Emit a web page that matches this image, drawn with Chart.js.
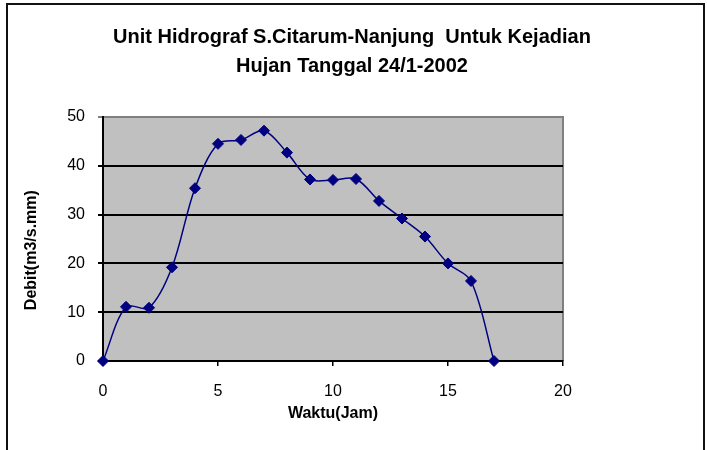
<!DOCTYPE html>
<html>
<head>
<meta charset="utf-8">
<script src="https://cdn.jsdelivr.net/npm/chart.js@4"></script>
<style>
  html, body { margin: 0; padding: 0; background: #fff; }
  #wrap { width: 707px; height: 450px; }
</style>
</head>
<body>
<div id="wrap"><canvas id="hidroChart" width="707" height="450"></canvas></div>
<script>
        // Unit hidrograf data (jam vs debit)
        const hours = [0, 1, 2, 3, 4, 5, 6, 7, 8, 9, 10, 11, 12, 13, 14, 15, 16, 17];
        const debit = [0, 11.1, 10.9, 19.2, 35.4, 44.5, 45.3, 47.2, 42.7, 37.2, 37.1, 37.3, 32.8, 29.2, 25.5, 20.0, 16.4, 0];
        const titleLines = ['Unit Hidrograf S.Citarum-Nanjung  Untuk Kejadian', 'Hujan Tanggal 24/1-2002'];
        const xTitle = 'Waktu(Jam)';
        const yTitle = 'Debit(m3/s.mm)';

        const fontFam = '"Liberation Sans", Arial, sans-serif';

        // frame, plot background and the two-line title
        const decorPlugin = {
            id: 'decor',
            beforeDraw(chart) {
                const ctx = chart.ctx;
                const a = chart.chartArea;
                ctx.save();
                ctx.fillStyle = '#ffffff';
                ctx.fillRect(0, 0, chart.width, chart.height);
                ctx.strokeStyle = '#111111';
                ctx.lineWidth = 2;
                ctx.strokeRect(7, 4, 697, 500);
                ctx.fillStyle = '#C0C0C0';
                ctx.fillRect(a.left, a.top, a.right - a.left, a.bottom - a.top);
                ctx.strokeStyle = '#808080';
                ctx.lineWidth = 2;
                ctx.beginPath();
                ctx.moveTo(a.left, a.top);
                ctx.lineTo(a.right, a.top);
                ctx.lineTo(a.right, a.bottom);
                ctx.stroke();
                ctx.restore();
            },
            afterDraw(chart) {
                const ctx = chart.ctx;
                ctx.save();
                ctx.fillStyle = '#000000';
                ctx.font = 'bold 20px ' + fontFam;
                ctx.textAlign = 'center';
                ctx.textBaseline = 'alphabetic';
                ctx.fillText(titleLines[0], 352, 43);
                ctx.fillText(titleLines[1], 352, 72);
                ctx.restore();
            }
        };

        const hidroChart = new Chart(document.getElementById('hidroChart'), {
            type: 'line',
            data: {
                datasets: [{
                    data: hours.map((h, i) => ({ x: h, y: debit[i] })),
                    borderColor: '#000080',
                    backgroundColor: '#000080',
                    borderWidth: 1.5,
                    tension: 0.33,
                    pointStyle: 'rectRot',
                    pointRadius: 5.5,
                    pointBorderWidth: 1,
                    fill: false,
                    clip: false
                }]
            },
            options: {
                responsive: false,
                animation: false,
                layout: { padding: { top: 117, left: 0, right: 144, bottom: 0 } },
                plugins: {
                    legend: { display: false },
                    tooltip: { enabled: false },
                    title: { display: false }
                },
                scales: {
                    x: {
                        type: 'linear',
                        min: 0,
                        max: 20,
                        afterFit(scale) { scale.height = 89; },
                        ticks: {
                            stepSize: 5,
                            color: '#000',
                            padding: 16,
                            maxRotation: 0,
                            font: { family: fontFam, size: 16 }
                        },
                        grid: {
                            drawOnChartArea: false,
                            drawTicks: true,
                            tickLength: 5,
                            color: '#000',
                            lineWidth: 1.5
                        },
                        border: { color: '#000', width: 2 },
                        title: {
                            display: true,
                            text: xTitle,
                            color: '#000',
                            padding: { top: 0, bottom: 27 },
                            font: { family: fontFam, size: 16, weight: 'bold' }
                        }
                    },
                    y: {
                        min: 0,
                        max: 50,
                        afterFit(scale) { scale.width = 103; },
                        ticks: {
                            stepSize: 10,
                            color: '#000',
                            padding: 13,
                            font: { family: fontFam, size: 16 }
                        },
                        grid: {
                            color: (c) => (c.tick && c.tick.value === 50 ? '#808080' : '#000'),
                            lineWidth: 2,
                            tickLength: 5
                        },
                        border: { color: '#000', width: 2 },
                        title: {
                            display: true,
                            // trailing spaces push the rotated label down a little, as in the original
                            text: yTitle + '\u00a0\u00a0\u00a0\u00a0\u00a0',
                            color: '#000',
                            padding: { top: 22, bottom: 0 },
                            font: { family: fontFam, size: 16, weight: 'bold' }
                        }
                    }
                }
            },
            plugins: [decorPlugin]
        });
</script>
</body>
</html>
